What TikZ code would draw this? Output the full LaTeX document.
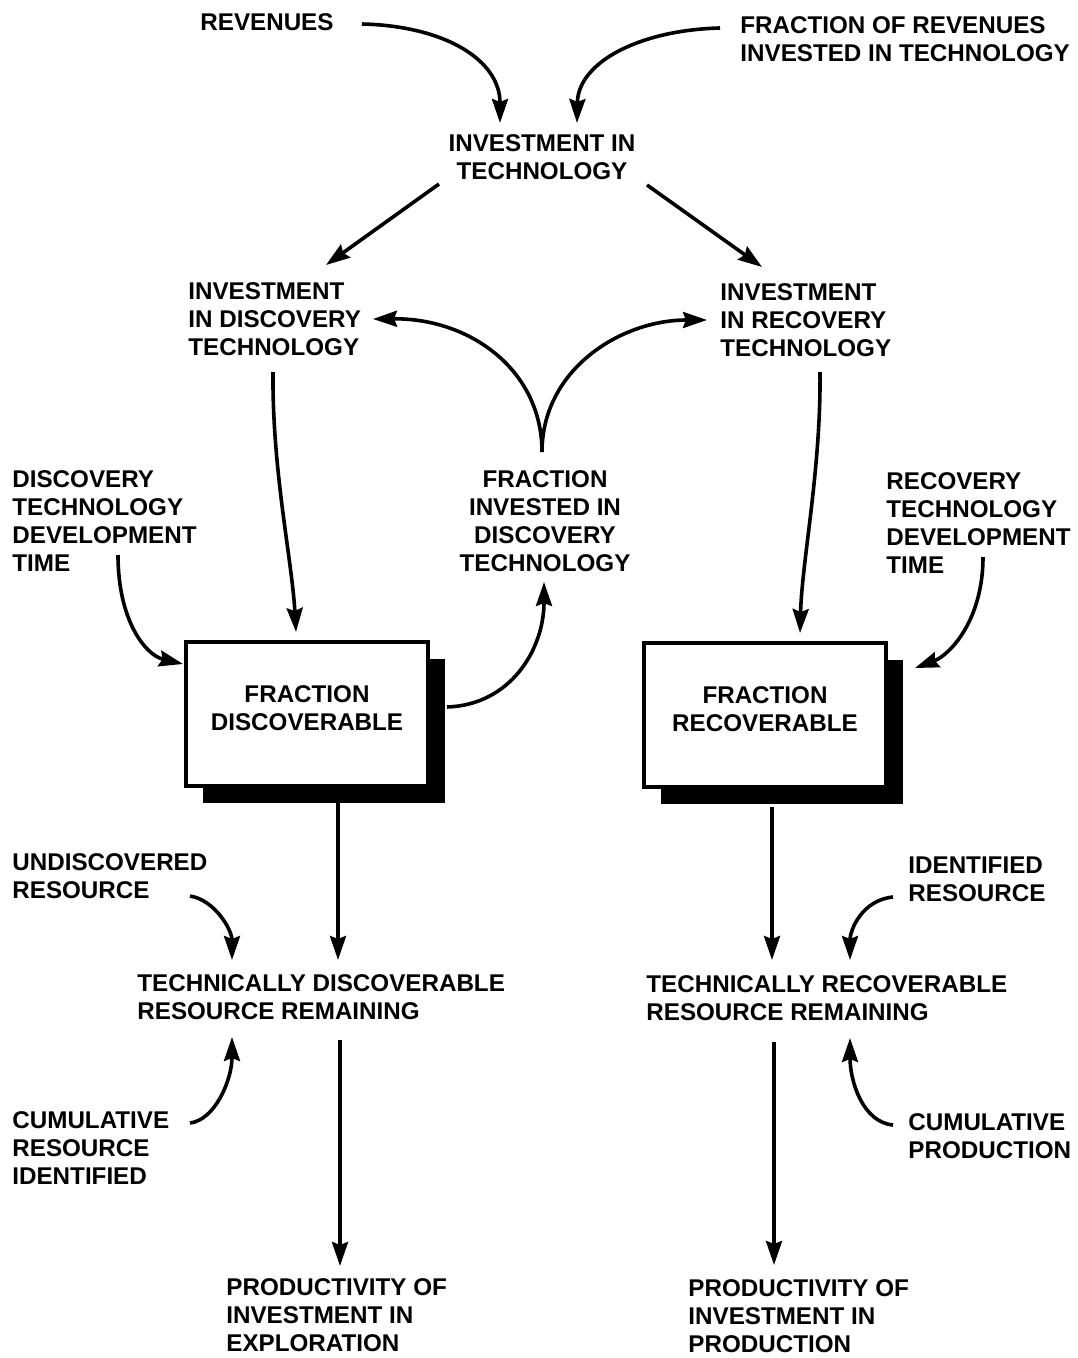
\documentclass[tikz,border=0pt]{standalone}
\usepackage{fontspec}
\setmainfont{Liberation Sans}
\usetikzlibrary{arrows.meta,shadows}
\begin{document}
\begin{tikzpicture}[x=0.5pt,y=-0.5pt,
  lbl/.style={font=\bfseries\fontsize{12.1}{14}\selectfont, inner sep=0pt, align=left, anchor=west},
  clbl/.style={font=\bfseries\fontsize{12.1}{14}\selectfont, inner sep=0pt, align=center},
  stockbox/.style={draw, line width=1.6pt, fill=white, minimum width=121pt, minimum height=72pt,
     font=\bfseries\fontsize{12.1}{14}\selectfont, align=center,
     general shadow={fill=black, shadow xshift=8.5pt, shadow yshift=-8.5pt}},
  arr/.style={line width=1.8pt, -{Stealth[length=12pt,width=8pt,inset=1.5pt]}}]
\useasboundingbox (0,0) rectangle (1077,1358);

% nodes
\node[lbl] (rev) at (200,22) {REVENUES};
\node[lbl] (frac) at (740,39) {FRACTION OF REVENUES\\INVESTED IN TECHNOLOGY};
\node[clbl] (invt) at (542,157.5) {INVESTMENT IN\\TECHNOLOGY};
\node[lbl] (invd) at (188,319) {INVESTMENT\\IN DISCOVERY\\TECHNOLOGY};
\node[lbl] (invr) at (720,320) {INVESTMENT\\IN RECOVERY\\TECHNOLOGY};
\node[lbl] (dtime) at (12,521) {DISCOVERY\\TECHNOLOGY\\DEVELOPMENT\\TIME};
\node[clbl] (fid) at (545,521) {FRACTION\\INVESTED IN\\DISCOVERY\\TECHNOLOGY};
\node[lbl] (rtime) at (886,523) {RECOVERY\\TECHNOLOGY\\DEVELOPMENT\\TIME};
\node[stockbox] (fd) at (307,714) {FRACTION\\DISCOVERABLE\rule[-6pt]{0pt}{6pt}};
\node[stockbox] (fr) at (765,715) {FRACTION\\RECOVERABLE\rule[-6pt]{0pt}{6pt}};
\node[lbl] (undis) at (12,876.5) {UNDISCOVERED\\RESOURCE};
\node[lbl] (tdrr) at (137,997) {TECHNICALLY DISCOVERABLE\\RESOURCE REMAINING};
\node[lbl] (cri) at (12,1148) {CUMULATIVE\\RESOURCE\\IDENTIFIED};
\node[lbl] (pexp) at (226,1315) {PRODUCTIVITY OF\\INVESTMENT IN\\EXPLORATION};
\node[lbl] (idr) at (908,879.5) {IDENTIFIED\\RESOURCE};
\node[lbl] (trrr) at (646,998.5) {TECHNICALLY RECOVERABLE\\RESOURCE REMAINING};
\node[lbl] (cprod) at (908,1136) {CUMULATIVE\\PRODUCTION};
\node[lbl] (pprod) at (688,1316) {PRODUCTIVITY OF\\INVESTMENT IN\\PRODUCTION};

% connectors
\draw[arr] ([shift={(162,2)}]rev.west) .. controls (445,26) and (500,60) .. ([shift={(-42,-34.5)}]invt.center);
\draw[arr] ([shift={(-20,-11)}]frac.west) .. controls (640,30) and (578,62) .. ([shift={(35,-34.5)}]invt.center);
\draw[arr] ([shift={(-103,26.5)}]invt.center) -- ([shift={(138,-54)}]invd.west);
\draw[arr] ([shift={(105,27.5)}]invt.center) -- ([shift={(42,-53)}]invr.west);
\draw[arr] ([shift={(85,53)}]invd.west) .. controls (272,470) and (292,560) .. ([shift={(-11,-82)}]fd.center);
\draw[arr] ([shift={(100,52)}]invr.west) .. controls (821,470) and (802,560) .. ([shift={(35,-82)}]fr.center);
\draw[arr] ([shift={(106,34)}]dtime.west) .. controls (118,620) and (145,655) .. ([shift={(-124,-50)}]fd.center);
\draw[arr] ([shift={(97,34)}]rtime.west) .. controls (983,620) and (950,655) .. ([shift={(150,-47)}]fr.center);
\draw[arr] ([shift={(140,-7)}]fd.center) .. controls (510,705) and (544,650) .. ([shift={(-1,61)}]fid.center);
\draw[arr] ([shift={(-3,-69)}]fid.center) .. controls (542,370) and (470,318) .. ([shift={(185,0)}]invd.west);
\draw[arr] ([shift={(-3,-69)}]fid.center) .. controls (542,370) and (620,320) .. ([shift={(-13,0)}]invr.west);
\draw[arr] ([shift={(31,89)}]fd.center) -- ([shift={(201,-37)}]tdrr.west);
\draw[arr] ([shift={(178,19.5)}]undis.west) .. controls (215,900) and (232,930) .. ([shift={(95,-37)}]tdrr.west);
\draw[arr] ([shift={(178,-25)}]cri.west) .. controls (215,1120) and (232,1080) .. ([shift={(95,40)}]tdrr.west);
\draw[arr] ([shift={(203,43)}]tdrr.west) -- ([shift={(114,-49)}]pexp.west);
\draw[arr] ([shift={(7,92)}]fr.center) -- ([shift={(126,-38.5)}]trrr.west);
\draw[arr] ([shift={(-15,17.5)}]idr.west) .. controls (862,900) and (850,930) .. ([shift={(204,-38.5)}]trrr.west);
\draw[arr] ([shift={(-15,-11)}]cprod.west) .. controls (862,1122) and (850,1080) .. ([shift={(204,39.5)}]trrr.west);
\draw[arr] ([shift={(128,43.5)}]trrr.west) -- ([shift={(86,-51)}]pprod.west);
\end{tikzpicture}
\end{document}
